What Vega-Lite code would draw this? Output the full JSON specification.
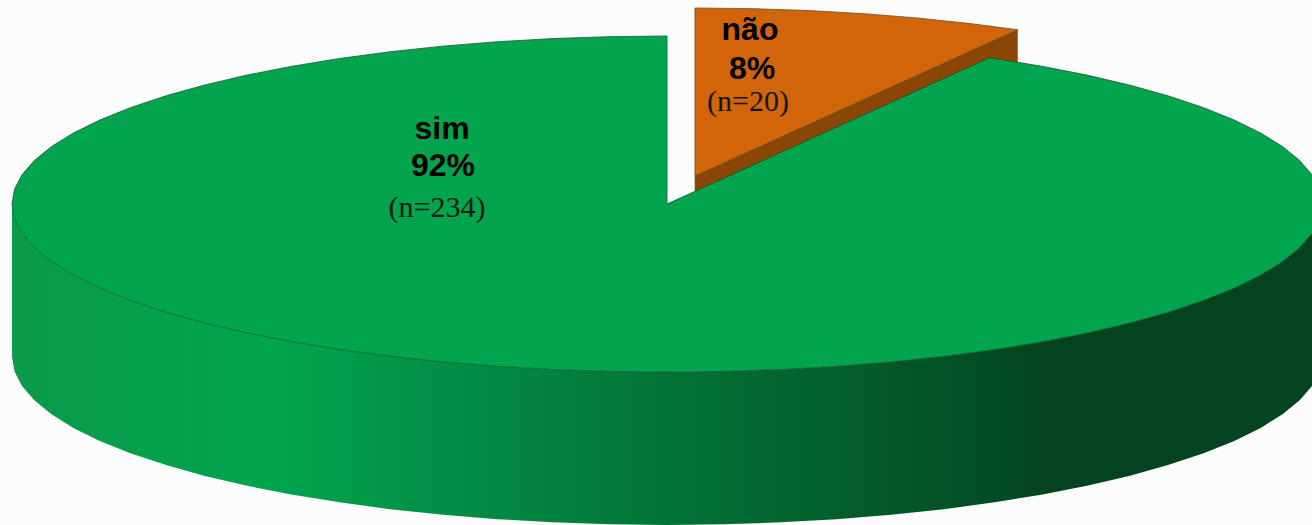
{
"$schema":"https://vega.github.io/schema/vega-lite/v6.json",
"width":1312,"height":525,"padding":0,"autosize":{"type":"none"},"background":"#FCFCFC",
"config":{"view":{"stroke":null}},
"datasets":{
"orangeWall":[{"o":0,"x":0.0427,"y":0.1667},{"o":1,"x":0.5351,"y":1.0371},{"o":2,"x":0.5351,"y":0.1321},{"o":3,"x":0.0427,"y":-0.7383},{"o":4,"x":0.0427,"y":0.1667}],
"orangeTop":[{"o":0,"x":0.0427,"y":0.1667},{"o":1,"x":0.0427,"y":1.1667},{"o":2,"x":0.1299,"y":1.1629},{"o":3,"x":0.2163,"y":1.1515},{"o":4,"x":0.3015,"y":1.1326},{"o":5,"x":0.3847,"y":1.1064},{"o":6,"x":0.4653,"y":1.073},{"o":7,"x":0.5351,"y":1.0371},{"o":8,"x":0.0427,"y":0.1667}],
"greenWall":[
{"x":-1,"y":0,"yb":-0.91},{"x":-0.9962,"y":-0.0872,"yb":-0.9972},{"x":-0.9848,"y":-0.1736,"yb":-1.0836},{"x":-0.9659,"y":-0.2588,"yb":-1.1688},{"x":-0.9397,"y":-0.342,"yb":-1.252},{"x":-0.9063,"y":-0.4226,"yb":-1.3326},{"x":-0.866,"y":-0.5,"yb":-1.41},{"x":-0.8192,"y":-0.5736,"yb":-1.4836},{"x":-0.766,"y":-0.6428,"yb":-1.5528},{"x":-0.7071,"y":-0.7071,"yb":-1.6171},{"x":-0.6428,"y":-0.766,"yb":-1.676},{"x":-0.5736,"y":-0.8192,"yb":-1.7292},{"x":-0.5,"y":-0.866,"yb":-1.776},{"x":-0.4226,"y":-0.9063,"yb":-1.8163},{"x":-0.342,"y":-0.9397,"yb":-1.8497},{"x":-0.2588,"y":-0.9659,"yb":-1.8759},{"x":-0.1736,"y":-0.9848,"yb":-1.8948},{"x":-0.0872,"y":-0.9962,"yb":-1.9062},{"x":0,"y":-1,"yb":-1.91},
{"x":0.0872,"y":-0.9962,"yb":-1.9062},{"x":0.1736,"y":-0.9848,"yb":-1.8948},{"x":0.2588,"y":-0.9659,"yb":-1.8759},{"x":0.342,"y":-0.9397,"yb":-1.8497},{"x":0.4226,"y":-0.9063,"yb":-1.8163},{"x":0.5,"y":-0.866,"yb":-1.776},{"x":0.5736,"y":-0.8192,"yb":-1.7292},{"x":0.6428,"y":-0.766,"yb":-1.676},{"x":0.7071,"y":-0.7071,"yb":-1.6171},{"x":0.766,"y":-0.6428,"yb":-1.5528},{"x":0.8192,"y":-0.5736,"yb":-1.4836},{"x":0.866,"y":-0.5,"yb":-1.41},{"x":0.9063,"y":-0.4226,"yb":-1.3326},{"x":0.9397,"y":-0.342,"yb":-1.252},{"x":0.9659,"y":-0.2588,"yb":-1.1688},{"x":0.9848,"y":-0.1736,"yb":-1.0836},{"x":0.9962,"y":-0.0872,"yb":-0.9972},{"x":1,"y":0,"yb":-0.91}],
"greenTop":[
{"o":0,"x":0,"y":0},{"o":1,"x":0,"y":1},{"o":2,"x":-0.0872,"y":0.9962},{"o":3,"x":-0.1736,"y":0.9848},{"o":4,"x":-0.2588,"y":0.9659},{"o":5,"x":-0.342,"y":0.9397},{"o":6,"x":-0.4226,"y":0.9063},{"o":7,"x":-0.5,"y":0.866},{"o":8,"x":-0.5736,"y":0.8192},{"o":9,"x":-0.6428,"y":0.766},{"o":10,"x":-0.7071,"y":0.7071},{"o":11,"x":-0.766,"y":0.6428},{"o":12,"x":-0.8192,"y":0.5736},{"o":13,"x":-0.866,"y":0.5},{"o":14,"x":-0.9063,"y":0.4226},{"o":15,"x":-0.9397,"y":0.342},{"o":16,"x":-0.9659,"y":0.2588},{"o":17,"x":-0.9848,"y":0.1736},{"o":18,"x":-0.9962,"y":0.0872},{"o":19,"x":-1,"y":0},
{"o":20,"x":-0.9962,"y":-0.0872},{"o":21,"x":-0.9848,"y":-0.1736},{"o":22,"x":-0.9659,"y":-0.2588},{"o":23,"x":-0.9397,"y":-0.342},{"o":24,"x":-0.9063,"y":-0.4226},{"o":25,"x":-0.866,"y":-0.5},{"o":26,"x":-0.8192,"y":-0.5736},{"o":27,"x":-0.766,"y":-0.6428},{"o":28,"x":-0.7071,"y":-0.7071},{"o":29,"x":-0.6428,"y":-0.766},{"o":30,"x":-0.5736,"y":-0.8192},{"o":31,"x":-0.5,"y":-0.866},{"o":32,"x":-0.4226,"y":-0.9063},{"o":33,"x":-0.342,"y":-0.9397},{"o":34,"x":-0.2588,"y":-0.9659},{"o":35,"x":-0.1736,"y":-0.9848},{"o":36,"x":-0.0872,"y":-0.9962},{"o":37,"x":0,"y":-1},
{"o":38,"x":0.0872,"y":-0.9962},{"o":39,"x":0.1736,"y":-0.9848},{"o":40,"x":0.2588,"y":-0.9659},{"o":41,"x":0.342,"y":-0.9397},{"o":42,"x":0.4226,"y":-0.9063},{"o":43,"x":0.5,"y":-0.866},{"o":44,"x":0.5736,"y":-0.8192},{"o":45,"x":0.6428,"y":-0.766},{"o":46,"x":0.7071,"y":-0.7071},{"o":47,"x":0.766,"y":-0.6428},{"o":48,"x":0.8192,"y":-0.5736},{"o":49,"x":0.866,"y":-0.5},{"o":50,"x":0.9063,"y":-0.4226},{"o":51,"x":0.9397,"y":-0.342},{"o":52,"x":0.9659,"y":-0.2588},{"o":53,"x":0.9848,"y":-0.1736},{"o":54,"x":0.9962,"y":-0.0872},{"o":55,"x":1,"y":0},
{"o":56,"x":0.9962,"y":0.0872},{"o":57,"x":0.9848,"y":0.1736},{"o":58,"x":0.9659,"y":0.2588},{"o":59,"x":0.9397,"y":0.342},{"o":60,"x":0.9063,"y":0.4226},{"o":61,"x":0.866,"y":0.5},{"o":62,"x":0.8192,"y":0.5736},{"o":63,"x":0.766,"y":0.6428},{"o":64,"x":0.7071,"y":0.7071},{"o":65,"x":0.6428,"y":0.766},{"o":66,"x":0.5736,"y":0.8192},{"o":67,"x":0.4924,"y":0.8704},{"o":68,"x":0,"y":0}],
"boldLabels":[{"x":0.1267,"y":0.976,"label":"não"},{"x":0.1298,"y":0.744,"label":"8%"},{"x":-0.3435,"y":0.387,"label":"sim"},{"x":-0.342,"y":0.167,"label":"92%"}],
"counts":[{"x":0.1237,"y":0.554,"label":"(n=20)"},{"x":-0.3511,"y":-0.077,"label":"(n=234)"}]
},
"encoding":{
"x":{"field":"x","type":"quantitative","axis":null,"scale":{"domain":[-1.01832,0.98473],"nice":false,"zero":false}},
"y":{"field":"y","type":"quantitative","axis":null,"scale":{"domain":[-1.9107,1.2143],"nice":false,"zero":false}}
},
"layer":[
{"data":{"name":"orangeWall"},"mark":{"type":"line","fill":"#8B4504","stroke":"#8B4504","strokeWidth":0.5,"clip":true},"encoding":{"order":{"field":"o"}}},
{"data":{"name":"orangeTop"},"mark":{"type":"line","fill":"#D2650A","stroke":"#6b4a2a","strokeWidth":0.8,"clip":true},"encoding":{"order":{"field":"o"}}},
{"data":{"name":"greenWall"},"mark":{"type":"area","clip":true,"fill":{"gradient":"linear","x1":0,"y1":0,"x2":1,"y2":0,"stops":[{"offset":0,"color":"#0A9A4A"},{"offset":0.2,"color":"#02A44E"},{"offset":0.8,"color":"#03431F"},{"offset":1,"color":"#03431F"}]}},"encoding":{"y2":{"field":"yb"}}},
{"data":{"name":"greenTop"},"mark":{"type":"line","fill":"#02A44E","stroke":"#0E5A30","strokeWidth":0.8,"clip":true},"encoding":{"order":{"field":"o"}}},
{"data":{"name":"boldLabels"},"mark":{"type":"text","font":"Liberation Sans","fontWeight":"bold","fontSize":32,"color":"#000000","align":"center","baseline":"alphabetic"},"encoding":{"text":{"field":"label"}}},
{"data":{"name":"counts"},"mark":{"type":"text","font":"Liberation Serif","fontSize":30,"color":"#0A1A10","align":"center","baseline":"alphabetic"},"encoding":{"text":{"field":"label"}}}
]
}
